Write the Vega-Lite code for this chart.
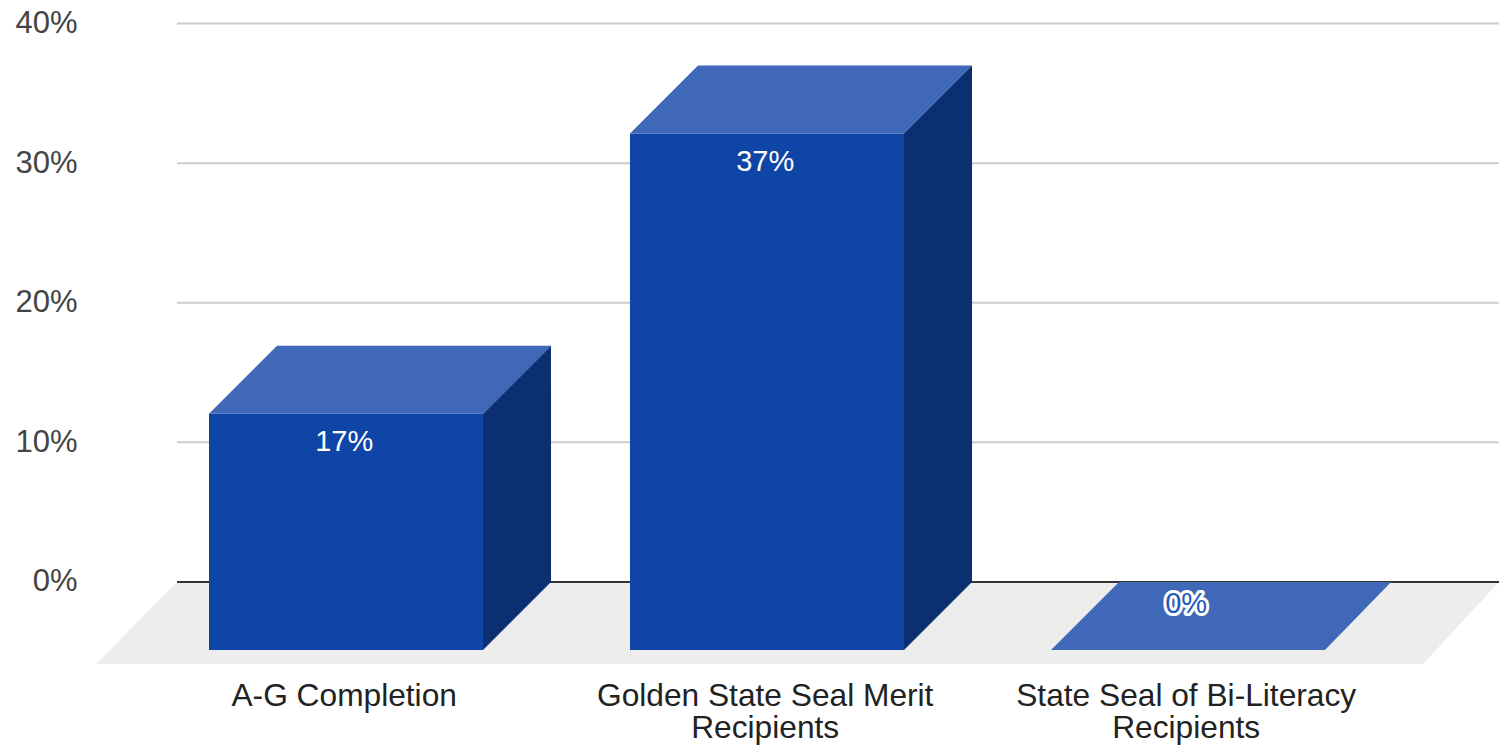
{
"$schema":"https://vega.github.io/schema/vega-lite/v6.json",
"width":1403,"height":745,"padding":{"left":96,"top":0,"right":0,"bottom":0},"autosize":"none",
"background":"white",
"config":{"view":{"stroke":null}},
"datasets":{
"faces":[
{"category":"floor","face":"floor","pos":0,"low":-5.87,"high":-5.87},
{"category":"floor","face":"floor","pos":0.1924,"low":-5.87,"high":0},
{"category":"floor","face":"floor","pos":3.152,"low":-5.87,"high":0},
{"category":"floor","face":"floor","pos":3.3325,"low":0,"high":0},
{"category":"A-G","face":"front","pos":0.2684,"low":-4.87,"high":12.05},
{"category":"A-G","face":"front","pos":0.9192,"low":-4.87,"high":12.05},
{"category":"A-G","face":"top","pos":0.2684,"low":12.05,"high":12.05},
{"category":"A-G","face":"top","pos":0.4299,"low":12.05,"high":16.92},
{"category":"A-G","face":"top","pos":0.9192,"low":12.05,"high":16.92},
{"category":"A-G","face":"top","pos":1.0808,"low":16.92,"high":16.92},
{"category":"A-G","face":"side","pos":0.9192,"low":-4.87,"high":12.05},
{"category":"A-G","face":"side","pos":1.0808,"low":0,"high":16.92},
{"category":"Golden","face":"front","pos":1.2684,"low":-4.87,"high":32.13},
{"category":"Golden","face":"front","pos":1.9192,"low":-4.87,"high":32.13},
{"category":"Golden","face":"top","pos":1.2684,"low":32.13,"high":32.13},
{"category":"Golden","face":"top","pos":1.4299,"low":32.13,"high":37},
{"category":"Golden","face":"top","pos":1.9192,"low":32.13,"high":37},
{"category":"Golden","face":"top","pos":2.0808,"low":37,"high":37},
{"category":"Golden","face":"side","pos":1.9192,"low":-4.87,"high":32.13},
{"category":"Golden","face":"side","pos":2.0808,"low":0,"high":37},
{"category":"Biliteracy","face":"top","pos":2.2684,"low":-4.87,"high":-4.87},
{"category":"Biliteracy","face":"top","pos":2.4299,"low":-4.87,"high":0},
{"category":"Biliteracy","face":"top","pos":2.9192,"low":-4.87,"high":0},
{"category":"Biliteracy","face":"top","pos":3.0762,"low":0,"high":0}
],
"grid":[{"v":10},{"v":20},{"v":30},{"v":40}],
"zero":[{"v":0}],
"values":[
{"label":"17%","pos":0.5895,"at":10},
{"label":"37%","pos":1.5895,"at":30.05}
],
"zeroLabel":[{"label":"0%","pos":2.5895,"at":-1.55}],
"cats":[
{"label":"A-G Completion","pos":0.5895,"at":-8.2},
{"label":"Golden State Seal Merit\nRecipients","pos":1.5895,"at":-8.2},
{"label":"State Seal of Bi-Literacy\nRecipients","pos":2.5895,"at":-8.2}
]
},
"layer":[
{"data":{"name":"faces"},"transform":[{"filter":"datum.face==='floor'"}],
"mark":{"type":"area","interpolate":"linear"},
"encoding":{
"x":{"field":"pos","type":"quantitative","scale":{"domain":[0,3.3325],"nice":false,"zero":false},"axis":null},
"y":{"field":"low","type":"quantitative","scale":{"domain":[-11.68,41.69],"nice":false,"zero":false},"axis":{"values":[0,10,20,30,40],"labelExpr":"datum.value+'%'","title":null,"domain":false,"ticks":false,"grid":false,"labelFont":"Liberation Sans","labelFontSize":31,"labelColor":"#444444","labelPadding":19,"labelOffset":0}},
"y2":{"field":"high"},
"color":{"value":"#ededed"}}},
{"data":{"name":"grid"},"mark":{"type":"rule","color":"#cccccc","strokeWidth":2},
"encoding":{"y":{"field":"v","type":"quantitative"},"x":{"datum":0.1924,"type":"quantitative"},"x2":{"datum":3.3325}}},
{"data":{"name":"zero"},"mark":{"type":"rule","color":"#333333","strokeWidth":2},
"encoding":{"y":{"field":"v","type":"quantitative"},"x":{"datum":0.1924,"type":"quantitative"},"x2":{"datum":3.3325}}},
{"data":{"name":"faces"},"transform":[{"filter":"datum.face!=='floor'"}],
"mark":{"type":"area","interpolate":"linear"},
"encoding":{
"x":{"field":"pos","type":"quantitative"},
"y":{"field":"low","type":"quantitative"},
"y2":{"field":"high"},
"detail":{"field":"category"},
"color":{"field":"face","type":"nominal","legend":null,"scale":{"domain":["front","top","side"],"range":["#0f45a6","#3f69b8","#0b2f70"]}}}},
{"data":{"name":"values"},"mark":{"type":"text","font":"Liberation Sans","fontSize":29,"color":"white","align":"center","baseline":"middle"},
"encoding":{"x":{"field":"pos","type":"quantitative"},"y":{"field":"at","type":"quantitative"},"text":{"field":"label"}}},
{"data":{"name":"zeroLabel"},"mark":{"type":"text","font":"Liberation Sans","fontSize":29,"color":"white","stroke":"white","strokeWidth":6,"strokeJoin":"round","align":"center","baseline":"middle"},
"encoding":{"x":{"field":"pos","type":"quantitative"},"y":{"field":"at","type":"quantitative"},"text":{"field":"label"}}},
{"data":{"name":"zeroLabel"},"mark":{"type":"text","font":"Liberation Sans","fontSize":29,"color":"#1f57b8","align":"center","baseline":"middle"},
"encoding":{"x":{"field":"pos","type":"quantitative"},"y":{"field":"at","type":"quantitative"},"text":{"field":"label"}}},
{"data":{"name":"cats"},"mark":{"type":"text","font":"Liberation Sans","fontSize":31.7,"color":"#222222","align":"center","baseline":"middle","lineBreak":"\n","lineHeight":32},
"encoding":{"x":{"field":"pos","type":"quantitative"},"y":{"field":"at","type":"quantitative"},"text":{"field":"label"}}}
]
}
